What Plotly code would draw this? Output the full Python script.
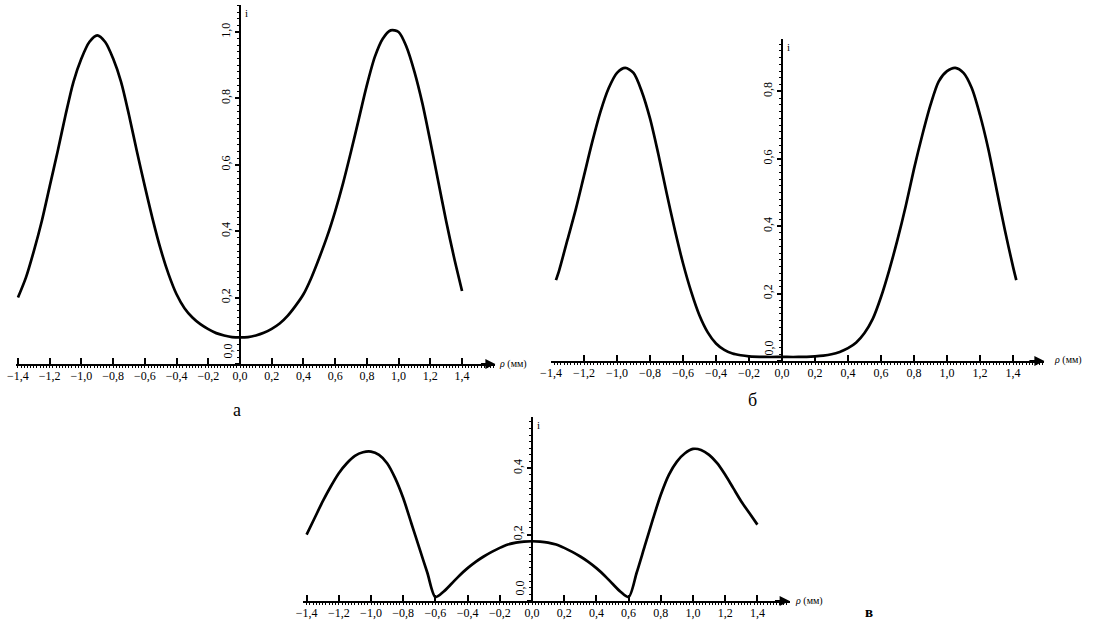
import plotly.graph_objects as go

# ---------------- data ----------------
x_a = [-1.4, -1.35, -1.3, -1.25, -1.2, -1.15, -1.1, -1.05, -1.0, -0.95, -0.9, -0.85, -0.8, -0.75,
       -0.7, -0.65, -0.6, -0.55, -0.5, -0.45, -0.4, -0.35, -0.3, -0.25, -0.2, -0.15, -0.1, -0.05, 0.0,
       0.05, 0.1, 0.15, 0.2, 0.25, 0.3, 0.35, 0.4, 0.45, 0.5, 0.55, 0.6, 0.65, 0.7, 0.75, 0.8,
       0.85, 0.9, 0.95, 1.0, 1.05, 1.1, 1.15, 1.2, 1.25, 1.3, 1.35, 1.4]
i_a = [0.20, 0.26, 0.34, 0.43, 0.535, 0.64, 0.75, 0.85, 0.92, 0.97, 0.99, 0.97, 0.92, 0.85,
       0.75, 0.64, 0.535, 0.435, 0.345, 0.27, 0.21, 0.168, 0.14, 0.12, 0.105, 0.093, 0.086, 0.081, 0.08,
       0.081, 0.086, 0.094, 0.106, 0.122, 0.145, 0.175, 0.21, 0.26, 0.32, 0.385, 0.46, 0.545, 0.64, 0.74, 0.84,
       0.925, 0.98, 1.005, 1.0, 0.955, 0.88, 0.785, 0.67, 0.55, 0.43, 0.32, 0.22]

x_b = [-1.37, -1.35, -1.3, -1.25, -1.2, -1.15, -1.1, -1.05, -1.0, -0.95, -0.9, -0.85, -0.8, -0.75,
       -0.7, -0.65, -0.6, -0.55, -0.5, -0.45, -0.4, -0.35, -0.3, -0.25, -0.2, -0.1, 0.0,
       0.1, 0.2, 0.25, 0.3, 0.35, 0.4, 0.45, 0.5, 0.55, 0.6, 0.65, 0.7, 0.75, 0.8,
       0.85, 0.9, 0.95, 1.0, 1.05, 1.1, 1.15, 1.2, 1.25, 1.3, 1.35, 1.4, 1.42]
i_b = [0.24, 0.27, 0.36, 0.45, 0.55, 0.65, 0.74, 0.81, 0.855, 0.87, 0.855, 0.80, 0.72, 0.615,
       0.50, 0.39, 0.29, 0.205, 0.135, 0.085, 0.052, 0.033, 0.022, 0.017, 0.014, 0.012, 0.012,
       0.012, 0.014, 0.016, 0.02, 0.027, 0.038, 0.055, 0.083, 0.125, 0.19, 0.27, 0.36, 0.46, 0.57,
       0.67, 0.76, 0.83, 0.86, 0.87, 0.855, 0.81, 0.73, 0.63, 0.51, 0.39, 0.28, 0.24]

x_c = [-1.4, -1.35, -1.3, -1.25, -1.2, -1.15, -1.1, -1.05, -1.0, -0.95, -0.9, -0.85, -0.8, -0.75,
       -0.7, -0.65, -0.6, -0.55, -0.5, -0.45, -0.4, -0.35, -0.3, -0.25, -0.2, -0.15, -0.1, -0.05, 0.0,
       0.05, 0.1, 0.15, 0.2, 0.25, 0.3, 0.35, 0.4, 0.45, 0.5, 0.55, 0.6, 0.65, 0.7, 0.75, 0.8,
       0.85, 0.9, 0.95, 1.0, 1.05, 1.1, 1.15, 1.2, 1.25, 1.3, 1.35, 1.4]
i_c = [0.20, 0.25, 0.30, 0.345, 0.385, 0.415, 0.437, 0.448, 0.45, 0.44, 0.415, 0.37, 0.31, 0.235,
       0.16, 0.085, 0.012, 0.028, 0.052, 0.077, 0.099, 0.118, 0.134, 0.148, 0.16, 0.17, 0.176, 0.179, 0.18,
       0.179, 0.176, 0.17, 0.16, 0.148, 0.134, 0.118, 0.099, 0.077, 0.052, 0.028, 0.012, 0.085, 0.165, 0.245, 0.32,
       0.38, 0.42, 0.445, 0.458, 0.455, 0.44, 0.415, 0.38, 0.34, 0.30, 0.265, 0.23]

x_tickvals = [-1.4, -1.2, -1.0, -0.8, -0.6, -0.4, -0.2, 0.0, 0.2, 0.4, 0.6, 0.8, 1.0, 1.2, 1.4]
x_ticktext = ["−1,4", "−1,2", "−1,0", "−0,8", "−0,6", "−0,4", "−0,2", "0,0",
              "0,2", "0,4", "0,6", "0,8", "1,0", "1,2", "1,4"]
y_tickvals_a = [0.0, 0.2, 0.4, 0.6, 0.8, 1.0]
y_tickvals_b = [0.0, 0.2, 0.4, 0.6, 0.8]
y_tickvals_c = [0.0, 0.2, 0.4]
y_ticktext_all = {0.0: "", 0.2: "0,2", 0.4: "0,4", 0.6: "0,6", 0.8: "0,8", 1.0: "1,0"}
panel_labels = ["а", "б", "в"]

# ---------------- layout geometry ----------------
W, H = 1095, 624
panels = [
    dict(x0=240, xs=158.6, y0=364, ys=332, xr=[-1.41, 1.61], yr=[0, 1.08],
         curve=(x_a, i_a), yt=y_tickvals_a, lab=(237, 410, 18, False), rho=(497, 364)),
    dict(x0=782, xs=165.0, y0=361, ys=337, xr=[-1.40, 1.59], yr=[0, 0.955],
         curve=(x_b, i_b), yt=y_tickvals_b, lab=(752, 400, 18, False), rho=(1052, 360)),
    dict(x0=532, xs=161.0, y0=601, ys=332, xr=[-1.42, 1.60], yr=[0, 0.555],
         curve=(x_c, i_c), yt=y_tickvals_c, lab=(869, 612, 15, True), rho=(793, 601)),
]

FONT = "Liberation Serif"
fig = go.Figure()
annotations = []
layout = {}

for k, p in enumerate(panels, start=1):
    xk = "x" if k == 1 else f"x{k}"
    yk = "y" if k == 1 else f"y{k}"
    xa = "xaxis" if k == 1 else f"xaxis{k}"
    ya = "yaxis" if k == 1 else f"yaxis{k}"
    dx0 = (p["x0"] + p["xr"][0] * p["xs"]) / W
    dx1 = (p["x0"] + p["xr"][1] * p["xs"]) / W
    dy0 = (H - p["y0"]) / H
    dy1 = (H - (p["y0"] - p["yr"][1] * p["ys"])) / H
    ypos = p["x0"] / W

    cx, cy = p["curve"]
    fig.add_trace(go.Scatter(x=cx, y=cy, mode="lines", xaxis=xk, yaxis=yk,
                             line=dict(color="black", width=2.7, shape="spline", smoothing=0.8),
                             showlegend=False, hoverinfo="skip", cliponaxis=False))

    layout[xa] = dict(domain=[dx0, dx1], range=p["xr"], anchor=yk, showgrid=False, zeroline=False,
                      automargin=False,
                      showline=True, linecolor="black", linewidth=2,
                      tickmode="array", tickvals=x_tickvals, ticktext=x_ticktext,
                      ticks="inside", ticklen=6, tickwidth=1.5, tickcolor="black",
                      tickfont=dict(family=FONT, size=12, color="black"),
                      minor=dict(ticks="outside", ticklen=2, tickwidth=1, tickcolor="black",
                                 tickmode="linear", tick0=0, dtick=0.02),
                      fixedrange=True)
    layout[ya] = dict(domain=[dy0, dy1], range=p["yr"], anchor="free", position=ypos,
                      showgrid=False, zeroline=False, automargin=False,
                      showline=True, linecolor="black", linewidth=2,
                      tickmode="array", tickvals=p["yt"], ticktext=[y_ticktext_all[v] for v in p["yt"]],
                      ticks="outside", ticklen=4, tickwidth=1.5, tickcolor="black", tickangle=-90,
                      tickfont=dict(family=FONT, size=12, color="black"),
                      minor=dict(ticks="outside", ticklen=2, tickwidth=1, tickcolor="black",
                                 tickmode="linear", tick0=0, dtick=0.02),
                      fixedrange=True)

    annotations.append(dict(x=p["xr"][1], y=0, ax=p["xr"][1] - 0.1, ay=0, xref=xk, yref=yk,
                            axref=xk, ayref=yk, showarrow=True, arrowhead=2, arrowsize=1,
                            arrowwidth=2, arrowcolor="black", text=""))
    annotations.append(dict(x=p["rho"][0] / W, y=1 - p["rho"][1] / H, xref="paper", yref="paper",
                            xanchor="left", yanchor="middle", showarrow=False,
                            text="<i>ρ</i> (мм)", font=dict(family=FONT, size=10, color="black")))
    annotations.append(dict(x=0, y=p["yr"][1], xref=xk, yref=yk, xanchor="left", yanchor="top",
                            xshift=3, showarrow=False, text="i",
                            font=dict(family=FONT, size=11, color="black")))
    annotations.append(dict(x=0, y=0, xref=xk, yref=yk, xanchor="right", yanchor="bottom",
                            xshift=-4, yshift=3, showarrow=False, text="0,0", textangle=-90,
                            font=dict(family=FONT, size=12, color="black")))
    lx, ly, ls, bold = p["lab"]
    annotations.append(dict(x=lx / W, y=1 - ly / H, xref="paper", yref="paper",
                            xanchor="center", yanchor="middle", showarrow=False,
                            text=(f"<b>{panel_labels[k-1]}</b>" if bold else panel_labels[k-1]),
                            font=dict(family=FONT, size=ls, color="black")))

fig.update_layout(width=W, height=H, margin=dict(l=0, r=0, t=0, b=0, autoexpand=False),
                  paper_bgcolor="white", plot_bgcolor="white",
                  annotations=annotations, showlegend=False, **layout)

fig.write_html("out.html", config={"displayModeBar": False},
               post_script="document.body.style.margin='0';")
